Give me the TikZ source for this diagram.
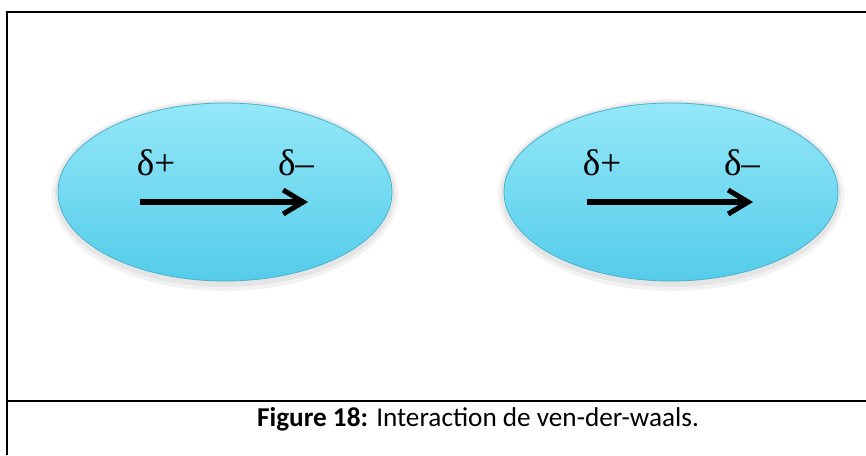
\documentclass[tikz,border=0pt]{standalone}
\usepackage{fontspec}
\setmainfont{Carlito}
\newfontfamily\deltafont{Liberation Serif}
\usetikzlibrary{shapes.geometric,arrows.meta}
\definecolor{moltop}{RGB}{148,232,248}
\definecolor{molmid}{RGB}{114,219,243}
\definecolor{molbot}{RGB}{84,204,234}
\definecolor{moledge}{RGB}{72,178,208}
\tikzset{
  mol/.style={ellipse, minimum width=334pt, minimum height=178pt, inner sep=0pt,
    top color=moltop, middle color=molmid, bottom color=molbot, draw=moledge, line width=0.8pt},
  halo/.style={ellipse, inner sep=0pt, fill=black, fill opacity=0.05, draw=none},
  charge/.style={font=\deltafont\fontsize{37}{37}\selectfont, anchor=base, inner sep=0pt},
  dipole/.style={line width=5.5pt, -{Straight Barb[length=20pt,width=24pt,line width=5pt]}},
  rule/.style={line width=2pt},
  captext/.style={font=\fontsize{27.2}{27.2}\selectfont, anchor=base, inner sep=0pt}
}
\begin{document}
\begin{tikzpicture}[x=1pt,y=-1pt]
\useasboundingbox (0,0) rectangle (866,455);
\fill[white] (0,0) rectangle (866,455);
% frame
\coordinate (bl) at (6.8,455);
\coordinate (tl) at (6.8,12);
\coordinate (tr) at (866,12);
\coordinate (ml) at (6.8,401);
\coordinate (mr) at (866,401);
\draw[rule] (bl) -- (tl) -- (tr);
\draw[rule] (ml) -- (mr);
% soft shadows
\foreach \cx in {225,671}{
  \node[halo, minimum width=346pt, minimum height=192pt] (h\cx a) at (\cx,195) {};
  \node[halo, minimum width=340pt, minimum height=186pt] (h\cx b) at (\cx,194) {};
}
% molecules
\node[mol] (m1) at (225,192) {};
\node[mol] (m2) at (671,192) {};
% charges
\node[charge] (p1) at (156,175) {δ+};
\node[charge] (n1) at (296,175) {δ–};
\node[charge] (p2) at (602,175) {δ+};
\node[charge] (n2) at (742,175) {δ–};
% dipole arrows
\coordinate (a1s) at (140,202);
\coordinate (a1e) at (308,202);
\coordinate (a2s) at (587,202);
\coordinate (a2e) at (753,202);
\draw[dipole] (a1s) -- (a1e);
\draw[dipole] (a2s) -- (a2e);
% caption
\node[captext] (cap) at (478,426) {\textbf{Figure 18:} Interaction de ven-der-waals.};
\end{tikzpicture}
\end{document}
